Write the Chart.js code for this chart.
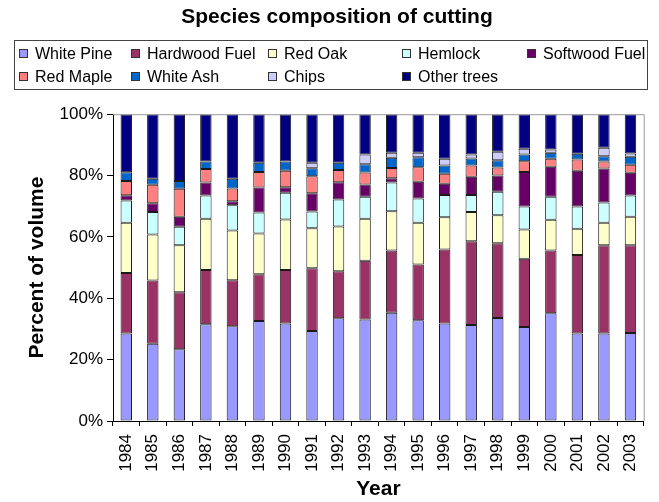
<!DOCTYPE html>
<html>
<head>
<meta charset="utf-8">
<script src="https://cdn.jsdelivr.net/npm/chart.js@4/dist/chart.umd.min.js"></script>
<style>
  body { margin: 0; background: #fff; }
  .wrap { position: relative; width: 659px; height: 502px; }
  .legend {
    position: absolute; left: 14px; top: 40px; width: 628px; height: 47px;
    border: 1px solid #444; box-sizing: content-box;
    display: grid; grid-template-columns: 112px 137px 134px 125px auto;
    grid-auto-rows: 23px; padding-left: 4px; padding-top: 1px;
    font-family: "Liberation Sans", Arial, sans-serif; font-size: 16px; color: #000;
  }
  .legend div { display: flex; align-items: center; white-space: nowrap; }
  .legend span.box { flex: none; width: 7px; height: 7px; border: 1px solid #333; margin-right: 7px; }
</style>
</head>
<body>
<div class="wrap">
  <canvas id="chart" width="659" height="502"></canvas>
  <div class="legend" id="legend"></div>
</div>
<script>
const years = ["1984", "1985", "1986", "1987", "1988", "1989", "1990", "1991", "1992", "1993",
  "1994", "1995", "1996", "1997", "1998", "1999", "2000", "2001", "2002", "2003"];

const whitePine = [28.5, 25.2, 23.4, 31.5, 30.9, 32.6, 31.8, 29.3, 33.5, 33.1, 35.3, 32.8, 31.8, 31.3, 33.6, 30.6, 35.1, 28.5, 28.5, 28.7];
const hardwoodFuel = [19.7, 20.6, 18.6, 17.7, 15.0, 15.2, 17.4, 20.5, 15.3, 19.1, 20.3, 18.2, 24.1, 27.3, 24.3, 22.3, 20.5, 25.6, 28.8, 28.6];
const redOak = [16.4, 15.0, 15.3, 16.7, 16.2, 13.3, 16.5, 13.0, 14.6, 13.7, 12.8, 13.6, 10.5, 9.5, 9.2, 9.5, 10.0, 8.6, 7.3, 9.3];
const hemlock = [7.3, 7.3, 6.0, 7.6, 8.2, 6.9, 8.7, 5.5, 8.8, 7.2, 9.3, 7.9, 7.3, 5.6, 7.6, 7.5, 7.5, 7.2, 6.6, 6.9];
const softwoodFuel = [1.7, 2.9, 3.3, 4.2, 1.3, 8.1, 1.8, 5.9, 5.6, 4.0, 1.4, 5.5, 3.6, 5.9, 5.3, 11.3, 9.8, 11.7, 11.1, 7.4];
const redMaple = [4.6, 6.0, 9.1, 4.4, 4.2, 5.1, 5.4, 5.6, 4.0, 3.9, 3.4, 4.7, 3.3, 3.7, 2.6, 3.5, 2.6, 3.6, 2.3, 2.6];
const whiteAsh = [2.9, 2.0, 2.5, 2.5, 3.2, 3.0, 3.0, 2.6, 2.4, 2.7, 3.3, 3.3, 2.7, 2.3, 2.4, 2.2, 1.9, 1.9, 1.7, 2.6];
const chips = [0, 0, 0, 0, 0, 0, 0, 1.8, 0, 3.2, 1.6, 1.4, 2.2, 1.3, 2.8, 1.8, 1.1, 0, 2.8, 1.1];
const otherTrees = [18.9, 21.0, 21.8, 15.4, 21.0, 15.8, 15.4, 15.8, 15.8, 13.1, 12.6, 12.6, 14.5, 13.1, 12.2, 11.3, 11.5, 12.9, 10.9, 12.8];

const yTicks = [0, 20, 40, 60, 80, 100];

const series = [
  ["White Pine", whitePine, "#9999ff"],
  ["Hardwood Fuel", hardwoodFuel, "#993366"],
  ["Red Oak", redOak, "#ffffcc"],
  ["Hemlock", hemlock, "#ccffff"],
  ["Softwood Fuel", softwoodFuel, "#660066"],
  ["Red Maple", redMaple, "#ff8080"],
  ["White Ash", whiteAsh, "#0066cc"],
  ["Chips", chips, "#ccccff"],
  ["Other trees", otherTrees, "#000080"],
];

const font = "'Liberation Sans', Arial, sans-serif";

// legend drawn as html so the columns line up like the original
const legendEl = document.getElementById("legend");
series.forEach(([name, , color]) => {
  const item = document.createElement("div");
  item.innerHTML = '<span class="box" style="background:' + color + '"></span>' + name;
  legendEl.appendChild(item);
});

// grey frame on top and right of plot area
const frame = {
  id: "frame",
  afterDraw(chart) {
    const { ctx, chartArea: a } = chart;
    ctx.save();
    ctx.strokeStyle = "#999";
    ctx.lineWidth = 1;
    ctx.beginPath();
    ctx.moveTo(a.left, a.top + 0.5);
    ctx.lineTo(a.right + 0.5, a.top + 0.5);
    ctx.lineTo(a.right + 0.5, a.bottom);
    ctx.stroke();
    ctx.restore();
  },
};

new Chart(document.getElementById("chart"), {
  type: "bar",
  data: {
    labels: years,
    datasets: series.map(([name, values, color]) => ({
      label: name,
      data: values,
      backgroundColor: color,
      borderColor: "#1a1a1a",
      borderWidth: 1,
      borderSkipped: false,
      barPercentage: 0.43,
      categoryPercentage: 1,
    })),
  },
  options: {
    responsive: false,
    animation: false,
    layout: { padding: { left: 21, right: 6, top: 0, bottom: 0 } },
    plugins: {
      legend: { display: false },
      tooltip: { enabled: false },
      title: {
        display: true,
        text: "Species composition of cutting",
        color: "#000",
        font: { family: font, size: 21, weight: "bold" },
        padding: { top: 5, bottom: 84 },
      },
    },
    scales: {
      x: {
        stacked: true,
        grid: { display: true, drawOnChartArea: false, offset: true, color: "#000", tickLength: 5 },
        border: { color: "#000" },
        ticks: {
          color: "#000",
          font: { family: font, size: 17 },
          minRotation: 90,
          maxRotation: 90,
          padding: 8,
          autoSkip: false,
        },
        title: {
          display: true,
          text: "Year",
          color: "#000",
          font: { family: font, size: 21, weight: "bold" },
          padding: { top: 0, bottom: 0 },
        },
        afterFit(scale) { scale.height = 81; },
      },
      y: {
        stacked: true,
        min: 0,
        max: 100,
        afterBuildTicks(scale) { scale.ticks = yTicks.map((v) => ({ value: v })); },
        grid: { display: true, drawOnChartArea: false, color: "#000", tickLength: 6 },
        border: { color: "#000" },
        ticks: {
          color: "#000",
          font: { family: font, size: 17 },
          padding: 4,
          callback: (v) => v + "%",
        },
        title: {
          display: true,
          text: "Percent of volume",
          color: "#000",
          font: { family: font, size: 21, weight: "bold" },
          padding: { top: 4, bottom: 0 },
        },
        afterFit(scale) { scale.width = 92; },
      },
    },
  },
  plugins: [frame],
});
</script>
</body>
</html>
